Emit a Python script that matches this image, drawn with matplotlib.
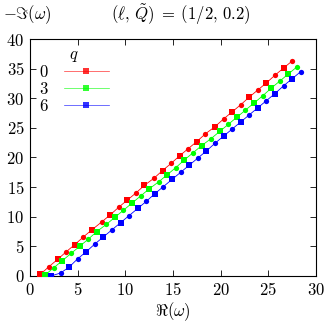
import matplotlib
matplotlib.use('Agg')
import matplotlib.pyplot as plt
from matplotlib.lines import Line2D
from matplotlib.ticker import FormatStrFormatter

plt.rcParams['mathtext.fontset'] = 'cm'
plt.rcParams['font.family'] = 'serif'
plt.rcParams['font.serif'] = ['DejaVu Serif']

# q = 0
re_q0 = [1.1, 2.0, 2.9, 3.8, 4.7, 5.6, 6.5, 7.5, 8.4, 9.3, 10.2, 11.1, 12.0, 13.0, 13.9,
         14.8, 15.7, 16.6, 17.5, 18.4, 19.4, 20.3, 21.2, 22.1, 23.0, 23.9, 24.8, 25.7, 26.6, 27.5]
im_q0 = [0.3, 1.6, 2.8, 4.1, 5.3, 6.6, 7.8, 9.1, 10.3, 11.6, 12.8, 14.0, 15.3, 16.5, 17.8,
         19.0, 20.3, 21.5, 22.7, 24.0, 25.2, 26.5, 27.7, 28.9, 30.2, 31.4, 32.6, 33.9, 35.1, 36.3]
# q = 3
re_q3 = [1.6, 2.5, 3.4, 4.3, 5.2, 6.1, 7.0, 8.0, 8.9, 9.8, 10.7, 11.6, 12.5, 13.5, 14.4,
         15.3, 16.2, 17.1, 18.0, 19.0, 19.9, 20.8, 21.7, 22.6, 23.5, 24.4, 25.3, 26.2, 27.1, 28.0]
im_q3 = [0.2, 1.4, 2.6, 3.8, 5.0, 6.2, 7.5, 8.7, 9.9, 11.1, 12.3, 13.5, 14.7, 15.9, 17.1,
         18.3, 19.6, 20.8, 22.0, 23.2, 24.4, 25.6, 26.8, 28.0, 29.2, 30.4, 31.7, 32.9, 34.1, 35.3]
# q = 6
re_q6 = [2.2, 3.2, 4.1, 5.0, 5.9, 6.8, 7.7, 8.6, 9.5, 10.4, 11.3, 12.2, 13.1, 14.0, 14.9,
         15.8, 16.7, 17.6, 18.5, 19.4, 20.3, 21.2, 22.1, 23.0, 23.9, 24.8, 25.7, 26.6, 27.5, 28.4]
im_q6 = [0.0, 0.5, 1.5, 2.9, 4.1, 5.4, 6.6, 7.8, 9.0, 10.2, 11.4, 12.6, 13.9, 15.1, 16.3,
         17.5, 18.7, 19.9, 21.1, 22.4, 23.6, 24.8, 26.0, 27.2, 28.4, 29.6, 30.8, 32.1, 33.3, 34.5]

series = [('0', re_q0, im_q0, '#ff0000'),
          ('3', re_q3, im_q3, '#00ff00'),
          ('6', re_q6, im_q6, '#0000ff')]

fig = plt.figure(figsize=(3.29, 3.27), dpi=100)
ax = fig.add_axes([0.0912, 0.156, 0.8693, 0.7247])

handles = []
for lab, xs, ys, c in series:
    ax.plot(xs, ys, '-', color=c, lw=0.6, zorder=2)
    ax.plot(xs[0::2], ys[0::2], 's', color=c, ms=3.8, mew=0, zorder=3)
    ax.plot(xs[1::2], ys[1::2], 'o', color=c, ms=3.8, mew=0, zorder=3)
    handles.append(Line2D([], [], color=c, lw=0.5, alpha=0.8, marker='s', ms=3.8, mew=0))

ax.set_xlim(0, 30)
ax.set_ylim(0, 40)
ax.set_xticks(range(0, 31, 5))
ax.set_yticks(range(0, 41, 5))
ax.xaxis.set_major_formatter(FormatStrFormatter('$%d$'))
ax.yaxis.set_major_formatter(FormatStrFormatter('$%d$'))
ax.tick_params(direction='in', top=True, right=True, length=4, width=0.6, labelsize=12, pad=4)
for s in ax.spines.values():
    s.set_linewidth(0.8)

ax.set_xlabel(r'$\Re(\omega)$', fontsize=12, labelpad=1)
fig.text(0.01, 0.955, r'$-\Im(\omega)$', fontsize=12, ha='left', va='center')
fig.text(0.55, 0.955, r'$(\ell,\,\tilde{Q})\;=\;(1/2,\,0.2)$', fontsize=12, ha='center', va='center')

leg = ax.legend(handles, ['$0$', '$3$', '$6$'], title='$q$', loc='upper left',
                bbox_to_anchor=(-0.01, 1.02), frameon=False, markerfirst=False,
                handlelength=2.7, handletextpad=0.9, labelspacing=0.0,
                fontsize=12, title_fontsize=12, borderaxespad=0.3)

fig.savefig('out.png', dpi=100)
